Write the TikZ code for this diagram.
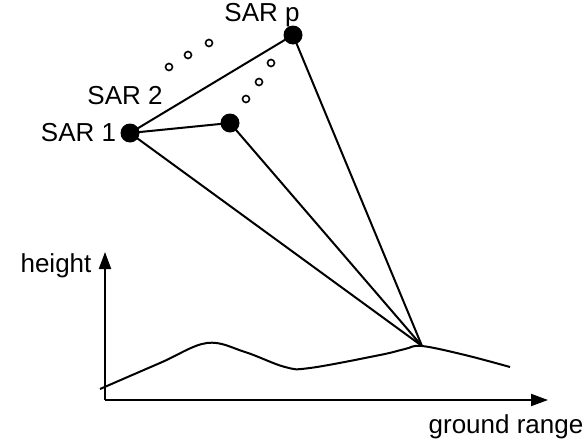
\documentclass[tikz,border=0pt]{standalone}
\usepackage{fontspec}
\setmainfont{Liberation Sans}
\usetikzlibrary{arrows.meta}
\usetikzlibrary{positioning}
\tikzset{
  sar/.style={circle,fill=black,inner sep=0pt,minimum size=19pt},
  track/.style={circle,draw=black,line width=1.6pt,inner sep=0pt,minimum size=7pt},
  lbl/.style={font=\fontsize{26}{30}\selectfont,inner sep=0pt},
  ray/.style={line width=2pt},
  axis/.style={line width=2pt,-{Triangle[width=12pt,length=17pt]}}
}

\begin{document}
\begin{tikzpicture}[x=1pt,y=-1pt]
\useasboundingbox (0,0) rectangle (584,442);
% antenna positions
\node[sar] (sar1) at (130,133) {};
\node[sar] (sar2) at (230,123) {};
\node[sar] (sarp) at (293,35) {};
\node[track] (o1) at (169,67) {};
\node[track] (o2) at (188,55) {};
\node[track] (o3) at (209,43) {};
\node[track] (o4) at (246,99) {};
\node[track] (o5) at (259,82) {};
\node[track] (o6) at (271,63) {};
\coordinate (gp) at (422,346);

\node[lbl,left=4pt of sar1] (t1) {SAR 1};
\node[lbl] (t2) at (125,96) {SAR 2};
\node[lbl] (tp) at (262,15) {SAR p};

\draw[ray] (sar1.center) -- (sarp.center);
\draw[ray] (sar1.center) -- (sar2.center);
\draw[ray] (sar1.center) -- (gp);
\draw[ray] (sar2.center) -- (gp);
\draw[ray] (sarp.center) -- (gp);

% terrain
\draw[ray] plot[smooth,tension=0.6] coordinates {(100,389) (160,363) (207,343) (245,352) (285,367) (310,368) (380,355) (405,349) (gp) (465,355) (510,367)};

% axes
\coordinate (o) at (105,400);
\coordinate (ytop) at (105,252);
\coordinate (xend) at (548,400);
\draw[axis] (o) -- (ytop);
\draw[axis] (o) -- (xend);
\node[lbl] (th) at (56,266) {height};
\node[lbl] (tg) at (506,427) {ground range};
\end{tikzpicture}
\end{document}
